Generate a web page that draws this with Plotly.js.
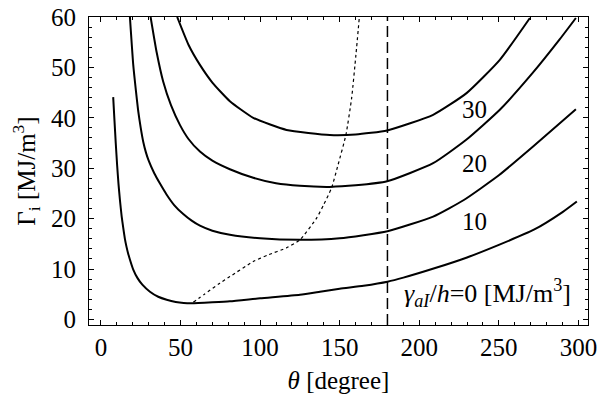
<!DOCTYPE html>
<html>
<head>
<meta charset="utf-8">
<script src="https://cdn.plot.ly/plotly-3.0.1.min.js"></script>
<style>html,body{margin:0;padding:0;background:#fff;}#chart{width:601px;height:406px;}</style>
</head>
<body>
<div id="chart"></div>
<script>
// gamma_aI/h = 0
const theta0 = [7.7, 8.5, 9.3, 10.2, 11, 11.9, 13, 14, 15, 16, 17, 18, 20.3, 23, 26, 30.8, 36, 41.3, 47, 52, 57, 70, 81, 100, 125, 137.6, 150, 165, 180, 190, 210, 230, 250, 272, 290, 299];
const gamma0 = [44.1, 39.5, 35, 30.5, 27, 23.8, 20.5, 18.2, 16.1, 14.5, 13.2, 12.1, 9.9, 8.2, 6.9, 5.5, 4.5, 3.9, 3.45, 3.25, 3.2, 3.4, 3.6, 4.2, 4.9, 5.5, 6.1, 6.7, 7.5, 8.3, 10.2, 12.3, 14.8, 17.8, 21.3, 23.4];
// gamma_aI/h = 10
const theta10 = [18.2, 20.3, 22, 23.4, 25, 26.6, 28.3, 30, 33.5, 37, 41.2, 46, 51.7, 57, 62.2, 70, 81, 100, 125, 150, 180, 208.7, 228, 250, 271.5, 298.4];
const gamma10 = [60, 50.5, 45.3, 41.4, 38, 35.2, 33.1, 31.5, 29.0, 27.0, 24.8, 22.7, 20.9, 19.6, 18.6, 17.6, 16.8, 16.1, 15.8, 16.1, 17.5, 20.4, 23.7, 28.6, 34.3, 41.7];
// gamma_aI/h = 20
const theta20 = [31.2, 35, 39.1, 44, 49.6, 55, 62.2, 70, 81, 95.7, 110, 125, 143.8, 160, 179.8, 208.7, 229.7, 250.6, 271.5, 288.3, 298.4];
const gamma20 = [60, 53, 47.2, 42.5, 38.6, 35.8, 33.3, 31.5, 29.8, 28.1, 27, 26.5, 26.3, 26.6, 27.4, 31, 35.7, 41.6, 49.0, 55.6, 59.8];
// gamma_aI/h = 30
const theta30 = [47.9, 55, 62.2, 70, 81, 95.7, 116.6, 143.8, 160, 179.8, 208.7, 229.7, 250.6, 269.5];
const gamma30 = [60, 54.5, 50.5, 47, 43.3, 40, 37.6, 36.6, 36.7, 37.5, 40.6, 44.9, 51.5, 59.8];
// dotted curve through the minima
const thetaMin = [58, 65, 74.7, 81, 95.7, 105, 116.6, 125, 135.5, 140, 144.9, 149, 153.9, 157.5, 160.2, 162.3];
const gammaMin = [3.4, 5.0, 7.2, 8.5, 11.5, 12.8, 14.2, 15.8, 20.1, 22.8, 26.1, 30.7, 36.6, 43.9, 52.5, 59.8];
// vertical reference at 180 degrees
const refTheta = [180, 180];
const refGamma = [-1.1, 60];
// curve labels
const labelText = ['30', '20', '10', '<i>γ<sub>aI</sub></i>/<i>h</i>=0 [MJ/m<sup>3</sup>]'];
const labelTheta = [235, 235, 235, 243];
const labelGamma = [41.6, 31.0, 19.4, 5.2];
// axes
const xRange = [-7.5, 306];
const yRange = [-1.1, 60];
const xTicks = [0, 50, 100, 150, 200, 250, 300];
const yTicks = [0, 10, 20, 30, 40, 50, 60];

const FONT = '"Liberation Serif", "Times New Roman", serif';
const solid = {color: '#000', width: 2, shape: 'spline', smoothing: 0.5};

const traces = [
  {x: theta0, y: gamma0, mode: 'lines', line: solid},
  {x: theta10, y: gamma10, mode: 'lines', line: solid},
  {x: theta20, y: gamma20, mode: 'lines', line: solid},
  {x: theta30, y: gamma30, mode: 'lines', line: solid},
  {x: thetaMin, y: gammaMin, mode: 'lines', line: {color: '#000', width: 1.2, dash: '3px,3px', shape: 'spline', smoothing: 0.5}},
  {x: refTheta, y: refGamma, mode: 'lines', line: {color: '#000', width: 1.5, dash: '11px,5px'}}
].map(t => Object.assign(t, {type: 'scatter', showlegend: false, hoverinfo: 'skip', cliponaxis: true}));

const annotations = labelText.map((t, i) => ({
  x: labelTheta[i], y: labelGamma[i], xref: 'x', yref: 'y', text: t, showarrow: false,
  font: {family: FONT, size: i === 3 ? 26 : 25, color: '#000'}
}));

const axisCommon = {
  showgrid: false, zeroline: false, showline: true, linecolor: '#000', linewidth: 1,
  mirror: 'allticks', ticks: 'inside', ticklen: 5, tickwidth: 1, tickcolor: '#000',
  tickfont: {family: FONT, size: 25, color: '#000'}
};

const layout = {
  width: 601, height: 406,
  margin: {l: 89, r: 13, t: 17, b: 81},
  paper_bgcolor: '#fff', plot_bgcolor: '#fff',
  showlegend: false,
  font: {family: FONT, color: '#000'},
  xaxis: Object.assign({}, axisCommon, {
    range: xRange, tickvals: xTicks, ticktext: xTicks.map(String),
    minor: {ticks: 'inside', dtick: 10, tick0: 0, ticklen: 3, tickwidth: 1, tickcolor: '#000', showgrid: false},
    title: {text: '<i>θ</i> [degree]', font: {family: FONT, size: 25, color: '#000'}, standoff: 11}
  }),
  yaxis: Object.assign({}, axisCommon, {
    range: yRange, tickvals: yTicks, ticktext: yTicks.map(String),
    ticklabelstandoff: 7,
    minor: {ticks: 'inside', dtick: 2, tick0: 0, ticklen: 3, tickwidth: 1, tickcolor: '#000', showgrid: false},
    title: {text: 'Γ<sub>i</sub> [MJ/m<sup>3</sup>]', font: {family: FONT, size: 25, color: '#000'}, standoff: 8}
  }),
  annotations: annotations
};

Plotly.newPlot('chart', traces, layout, {staticPlot: true, displayModeBar: false});
</script>
</body>
</html>
